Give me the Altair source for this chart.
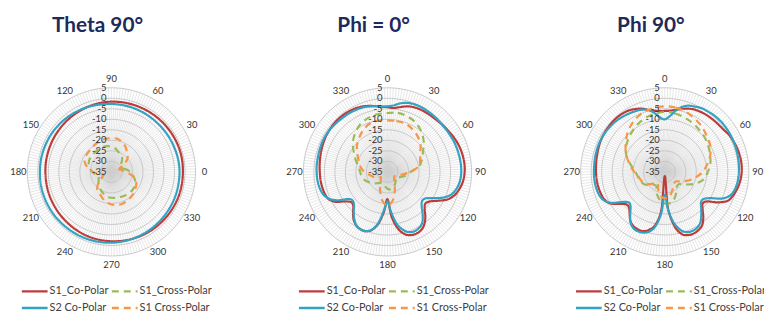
import altair as alt
import pandas as pd

# ---------------- data ----------------
ANG10 = list(range(0, 360, 10))
ANG5 = list(range(0, 360, 5))

SERIES = ["S1_Co-Polar", "S1_Cross-Polar", "S2 Co-Polar", "S1 Cross-Polar"]
COLORS = ["#BD3B3B", "#9BBB59", "#33A3C3", "#F79646"]
DASHES = [[1, 0], [7, 5], [1, 0], [7, 5]]
TITLES = ["Theta 90°", "Phi = 0°", "Phi 90°"]
RING_LEVELS = [5, 0, -5, -10, -15, -20, -25, -30]
TICK_LABELS = [5, 0, -5, -10, -15, -20, -25, -30, -35]
ANGLE_LABELS = [0, 30, 60, 90, 120, 150, 180, 210, 240, 270, 300, 330]

# Theta 90 (10 deg steps)
t_s1_co = [-1.0, -0.9, -0.9, -1.0, -1.1, -1.2, -1.3, -1.4, -1.5, -1.6, -1.8, -2.1,
           -2.4, -2.7, -3.0, -3.2, -3.4, -3.5, -3.6, -3.6, -3.5, -3.4, -3.2, -3.0,
           -2.7, -2.4, -2.2, -2.0, -1.8, -1.6, -1.4, -1.3, -1.2, -1.1, -1.0, -1.0]
t_s2_co = [-2.6, -2.7, -2.9, -3.0, -3.1, -3.1, -3.0, -2.9, -2.8, -2.7, -2.5, -2.2,
           -1.9, -1.6, -1.4, -1.2, -1.1, -1.0, -1.0, -0.9, -0.9, -0.9, -0.9, -1.0,
           -1.0, -1.1, -1.2, -1.3, -1.5, -1.7, -1.9, -2.1, -2.3, -2.4, -2.5, -2.6]
t_s1_x = [-26, -28, -30, -31, -29, -27, -25.8, -25, -23.8, -23, -22.6, -22.5,
          -22.6, -22.8, -23, -23, -23.5, -24.5, -26, -27.5, -28.5, -28, -27, -26,
          -25, -24, -23, -22.7, -22.5, -22.3, -22, -21.8, -21.8, -22, -23, -24.5]
t_s2_x = [-28, -30, -31, -28, -25, -23.4, -21.5, -20, -19, -19, -19, -19.3,
          -19.8, -20.3, -20.6, -20.8, -21.5, -23.5, -26, -29, -31, -30, -27, -24.5,
          -23.5, -22, -20.5, -19.5, -19, -19, -19.5, -20, -20.5, -21.5, -22.5, -25]

# Phi = 0 (co-polar 5 deg steps, cross-polar 10 deg steps)
p0_s1_co = [-4.2, -4.5, -3.8, -2.8, -2.0, -1.6, -1.4, -1.3, -1.2, -1.0, -0.6, -0.2,
            0.3, 0.8, 1.2, 1.5, 1.7, 1.8, 1.7, 1.4, 0.8, -0.2, -1.5, -3.8,
            -7.5, -10.5, -11.5, -10.0, -7.0, -4.5, -3.0, -2.6, -3.0, -4.5, -8.0, -14.0,
            -22.0, -16.0, -10.0, -6.5, -5.0, -4.8, -5.5, -7.0, -9.5, -12.0, -12.5, -10.5,
            -6.5, -4.2, -3.5, -3.2, -3.0, -2.9, -2.8, -2.6, -2.4, -2.1, -1.8, -1.5,
            -1.2, -1.0, -0.8, -0.7, -0.7, -0.8, -1.0, -1.3, -1.8, -2.5, -3.3, -3.9]
p0_s2_co = [-3.8, -3.3, -2.0, -1.0, -0.5, -0.3, -0.3, -0.4, -0.5, -0.6, -0.7, -0.6,
            -0.5, -0.3, -0.2, -0.1, 0.0, 0.1, 0.1, -0.1, -0.6, -1.5, -3.0, -6.0,
            -10.0, -13.0, -13.5, -12.0, -9.0, -6.0, -4.5, -4.0, -4.5, -6.5, -10.0, -16.0,
            -21.0, -17.0, -10.5, -6.5, -5.0, -4.8, -5.5, -7.5, -10.0, -12.5, -13.5, -12.5,
            -8.0, -4.5, -2.8, -2.0, -1.6, -1.4, -1.3, -1.2, -1.2, -1.1, -1.0, -0.9,
            -0.9, -1.0, -1.2, -1.4, -1.6, -1.7, -1.8, -2.0, -2.3, -2.8, -3.3, -3.8]
p0_s1_x = [-7, -6.5, -7, -8, -10, -12.5, -15.5, -17.5, -19.8, -24, -26, -28,
           -30, -30, -29, -28, -27, -26.5, -27, -28, -29, -29, -28, -26.5,
           -25, -23.5, -22.5, -22, -21, -19, -16.5, -13.5, -11, -9, -7.8, -7.2]
p0_s2_x = [-10.5, -10.5, -10.5, -11.5, -12.8, -14.5, -17, -18.5, -20, -24, -28, -30,
           -31, -31, -30, -28, -25, -21, -19, -21, -25, -28, -30, -31,
           -30, -28, -26.5, -24, -22, -20.5, -18.5, -16, -14, -12, -10.5, -10.3]

# Phi 90
p9_s1_co = [-6.0, -5.8, -5.0, -4.0, -3.0, -2.2, -1.8, -1.5, -1.3, -1.1, -0.9, -0.5,
            0.3, 0.7, 1.1, 1.4, 1.6, 1.7, 1.6, 1.3, 0.8, 0.1, -0.8, -2.2,
            -6.0, -10.5, -11.5, -9.5, -6.5, -4.0, -3.0, -2.6, -3.0, -4.5, -9.0, -18.0,
            -33.0, -17.0, -9.5, -6.5, -5.0, -4.8, -5.2, -6.5, -9.0, -11.0, -11.0, -8.5,
            -5.0, -3.5, -3.0, -2.7, -2.5, -2.4, -2.3, -2.2, -2.0, -1.8, -1.5, -1.2,
            -1.0, -0.8, -0.7, -0.6, -0.6, -0.8, -1.2, -2.0, -3.0, -4.5, -5.5, -6.0]
p9_s2_co = [-10.0, -8.5, -5.5, -3.0, -1.5, -0.8, 0.0, 0.3, 0.6, 0.8, 0.9, 0.9,
            0.9, 0.8, 0.7, 0.6, 0.5, 0.4, 0.3, 0.1, -0.2, -0.8, -2.0, -5.0,
            -10.0, -12.5, -12.5, -10.5, -8.0, -5.5, -4.3, -4.0, -4.5, -6.5, -10.5, -17.0,
            -24.0, -15.0, -8.5, -5.5, -4.3, -4.0, -4.5, -6.5, -9.5, -12.0, -12.5, -10.0,
            -5.5, -3.0, -2.0, -1.6, -1.4, -1.3, -1.3, -1.3, -1.2, -1.1, -1.0, -1.0,
            -1.0, -1.1, -1.3, -1.5, -1.8, -2.2, -2.6, -3.0, -3.5, -4.5, -6.5, -9.0]
p9_s1_x = [-6.5, -6.8, -7.5, -8.3, -9.2, -10, -11, -12, -13, -14.5, -16, -19,
           -23, -26, -26, -24, -21.5, -20, -20, -21.5, -24, -27, -27, -25,
           -23.5, -22.5, -22, -21, -19, -16, -13.5, -12, -10.5, -9, -7.8, -7]
p9_s2_x = [-3.8, -4, -4.8, -6, -7.3, -8.8, -10, -12, -14.5, -17, -20, -23,
           -26, -28, -28, -27, -25, -23, -22.5, -23.5, -26, -28.5, -28, -26,
           -24, -23, -22.3, -20.5, -18.4, -16, -13.5, -11, -8.5, -6.5, -5, -4.2]

PANELS = [
    [(SERIES[0], ANG10, t_s1_co), (SERIES[1], ANG10, t_s1_x),
     (SERIES[2], ANG10, t_s2_co), (SERIES[3], ANG10, t_s2_x)],
    [(SERIES[0], ANG5, p0_s1_co), (SERIES[1], ANG10, p0_s1_x),
     (SERIES[2], ANG5, p0_s2_co), (SERIES[3], ANG10, p0_s2_x)],
    [(SERIES[0], ANG5, p9_s1_co), (SERIES[1], ANG10, p9_s1_x),
     (SERIES[2], ANG5, p9_s2_co), (SERIES[3], ANG10, p9_s2_x)],
]

rows = []
for p, panel in enumerate(PANELS):
    for name, angs, vals in panel:
        for a, v in zip(angs, vals):
            rows.append({"p": p, "series": name, "angle": a, "value": v})
data = pd.DataFrame(rows)

# grid helper tables
spoke_df = pd.DataFrame([{"p": p, "angle": a} for p in range(3) for a in range(0, 360, 2)])
ring_df = pd.DataFrame([{"p": p, "value": lv, "angle": a, "key": f"{p}_{lv}"}
                        for p in range(3) for lv in RING_LEVELS for a in range(0, 360, 3)])
tick_df = pd.DataFrame([{"p": p, "value": lv, "label": str(lv)}
                        for p in range(3) for lv in TICK_LABELS])
alab_df = pd.DataFrame([{"p": p, "angle": a, "label": str(a)}
                        for p in range(3) for a in ANGLE_LABELS])
title_df = pd.DataFrame({"p": [0, 1, 2], "title": TITLES})

# ---------------- layout constants ----------------
W, H = 764, 305
CX = "(datum.p == 0 ? 104.5 : (datum.p == 1 ? 383.5 : 663.7))"
CY = "164"
K = 2.125      # px per dB
RMIN = -35
TH = "(datum.p == 0 ? datum.angle : 90 - datum.angle) * PI / 180"

XS = alt.Scale(domain=[0, W], nice=False, zero=False)
YS = alt.Scale(domain=[0, H], nice=False, zero=False, reverse=True)


def polar(chart, r_expr, xname="px", yname="py"):
    return chart.transform_calculate(
        **{xname: f"{CX} + ({r_expr}) * cos({TH})",
           yname: f"{CY} - ({r_expr}) * sin({TH})"}
    )


RV = f"{K} * (max(datum.value, {RMIN}) - ({RMIN}))"
ROUT = f"{K * 40}"

spokes = alt.Chart(spoke_df).transform_calculate(
    x0=CX, y0=CY,
    x1=f"{CX} + {ROUT} * cos({TH})",
    y1=f"{CY} - {ROUT} * sin({TH})",
).mark_rule(color="#cfcfcf", strokeWidth=0.5).encode(
    x=alt.X("x0:Q", scale=XS, axis=None),
    y=alt.Y("y0:Q", scale=YS, axis=None),
    x2="x1:Q", y2="y1:Q",
)

rings = polar(alt.Chart(ring_df), RV).mark_line(
    color="#bdbdbd", strokeWidth=0.8, interpolate="linear-closed"
).encode(
    x=alt.X("px:Q", scale=XS, axis=None),
    y=alt.Y("py:Q", scale=YS, axis=None),
    detail="key:N", order="angle:Q",
)

ticks = alt.Chart(tick_df).transform_calculate(
    px=f"{CX} - 5", py=f"{CY} - {RV}"
).mark_text(align="right", baseline="middle", fontSize=9.5, font="Lato",
            color="#333333").encode(
    x=alt.X("px:Q", scale=XS, axis=None),
    y=alt.Y("py:Q", scale=YS, axis=None),
    text="label:N",
)

alabels = polar(alt.Chart(alab_df), "94").mark_text(
    align="center", baseline="middle", fontSize=9.5, font="Lato", color="#333333"
).encode(
    x=alt.X("px:Q", scale=XS, axis=None),
    y=alt.Y("py:Q", scale=YS, axis=None),
    text="label:N",
)

titles = alt.Chart(title_df).transform_calculate(
    px=f"{CX} - 14", py="17"
).mark_text(align="center", baseline="middle", fontSize=21, font="Lato",
            fontWeight="bold", color="#1F2A5C").encode(
    x=alt.X("px:Q", scale=XS, axis=None),
    y=alt.Y("py:Q", scale=YS, axis=None),
    text="title:N",
)

LEG_X = [14, 294, 574]


def lines(p):
    leg = alt.Legend(
        title=None, orient="none", legendX=LEG_X[p], legendY=278, columns=2,
        direction="horizontal", gridAlign="each",
        symbolType="M-2.6,0H2.6", symbolSize=100, symbolStrokeWidth=2.5,
        symbolOffset=6.5, labelOffset=8.5,
        labelFont="Lato", labelFontSize=11, labelColor="#404040",
        columnPadding=-2, rowPadding=5, padding=0,
    )
    return polar(alt.Chart(data).transform_filter(f"datum.p == {p}"), RV).mark_line(
        strokeWidth=2.2, interpolate="cardinal-closed"
    ).encode(
        x=alt.X("px:Q", scale=XS, axis=None),
        y=alt.Y("py:Q", scale=YS, axis=None),
        order="angle:Q",
        color=alt.Color("series:N", scale=alt.Scale(domain=SERIES, range=COLORS), legend=leg),
        strokeDash=alt.StrokeDash("series:N", scale=alt.Scale(domain=SERIES, range=DASHES), legend=leg),
    )


chart = alt.layer(
    spokes, rings, lines(0), lines(1), lines(2), ticks, alabels, titles
).resolve_scale(
    color="independent", strokeDash="independent"
).properties(
    width=W, height=H, padding=0,
    autosize=alt.AutoSizeParams(type="none"),
).configure_view(stroke=None)

chart.save("out.html", embed_options={"renderer": "svg", "actions": False})
